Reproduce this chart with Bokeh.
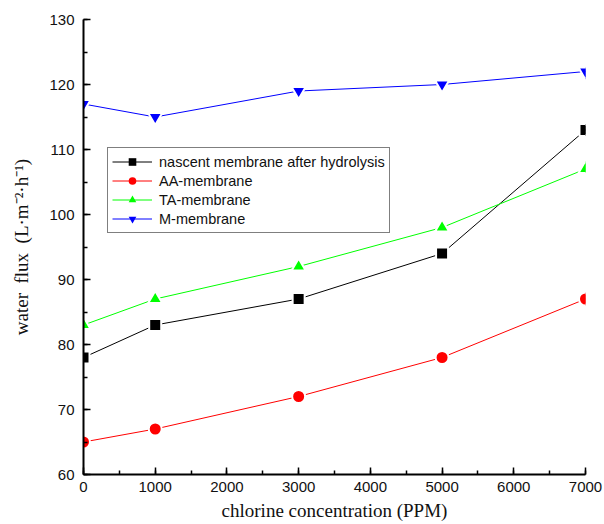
from bokeh.plotting import figure
from bokeh.models import Range1d, Legend, LegendItem, SingleIntervalTicker
from bokeh.embed import file_html
from bokeh.resources import INLINE

# Data
concentration = [0, 1000, 3000, 5000, 7000]
nascent = [78, 83, 87, 94, 113]
aa_membrane = [65, 67, 72, 78, 87]
ta_membrane = [83, 87, 92, 98, 107]
m_membrane = [117, 115, 119, 120, 122]

series_labels = ["nascent membrane after hydrolysis", "AA-membrane", "TA-membrane", "M-membrane"]
series_values = [nascent, aa_membrane, ta_membrane, m_membrane]
series_colors = ["#000000", "#ff0000", "#00ff00", "#0000ff"]
series_markers = ["square", "circle", "triangle", "inverted_triangle"]
series_sizes = [12, 13, 14, 14]

p = figure(width=604, height=524, output_backend="svg", toolbar_location=None,
           x_range=Range1d(0, 7000), y_range=Range1d(60, 130),
           min_border_left=83, min_border_right=19, min_border_top=19, min_border_bottom=50)

p.outline_line_color = None
p.xgrid.visible = False
p.ygrid.visible = False
p.background_fill_color = "white"
p.border_fill_color = "white"

p.xaxis.ticker = SingleIntervalTicker(interval=1000, num_minor_ticks=2)
p.yaxis.ticker = SingleIntervalTicker(interval=10, num_minor_ticks=2)

for ax in (p.xaxis[0], p.yaxis[0]):
    ax.axis_line_width = 2
    ax.axis_line_color = "black"
    ax.major_tick_in = 7
    ax.major_tick_out = 0
    ax.minor_tick_in = 4
    ax.minor_tick_out = 0
    ax.major_tick_line_width = 1.5
    ax.minor_tick_line_width = 1.5
    ax.major_tick_line_color = "black"
    ax.minor_tick_line_color = "black"
    ax.major_label_text_font = "Liberation Sans"
    ax.major_label_text_font_size = "15px"
    ax.major_label_text_color = "#111111"
    ax.axis_label_text_font = "Liberation Serif"
    ax.axis_label_text_font_style = "normal"
    ax.axis_label_text_color = "#111111"
    ax.axis_label_text_font_size = "19px"

p.xaxis.axis_label = "chlorine concentration (PPM)"
p.xaxis.major_label_standoff = 7
p.xaxis.axis_label_standoff = 5
p.xaxis.axis_label_text_line_height = 0.6
p.yaxis.axis_label = "water\u00a0\u00a0flux\u00a0\u00a0(L\u00b7m\u207b\u00b2\u00b7h\u207b\u00b9)"
p.yaxis.major_label_standoff = 9
p.yaxis.axis_label_standoff = 14

items = []
for label, vals, color, marker, size in zip(series_labels, series_values, series_colors, series_markers, series_sizes):
    # plain marker used for the legend sample (hidden under the outlined one)
    sr_plain = p.scatter(concentration, vals, marker=marker, size=size - 4, fill_color=color,
                         line_color=color, line_width=0)
    lr = p.line(concentration, vals, line_color=color, line_width=1)
    p.scatter(concentration, vals, marker=marker, size=size, fill_color=color,
              line_color="white", line_width=2)
    items.append(LegendItem(label=label, renderers=[lr, sr_plain]))

legend = Legend(items=items, location=(24, 241), border_line_color="black", border_line_width=1,
                background_fill_color="white", background_fill_alpha=1.0,
                label_text_font="Liberation Sans", label_text_font_size="14.5px",
                label_text_color="#111111",
                glyph_width=40, glyph_height=19, label_height=19, spacing=0,
                padding=4, label_standoff=7)
p.add_layout(legend, "center")

open("out.html", "w").write(file_html(p, INLINE))
